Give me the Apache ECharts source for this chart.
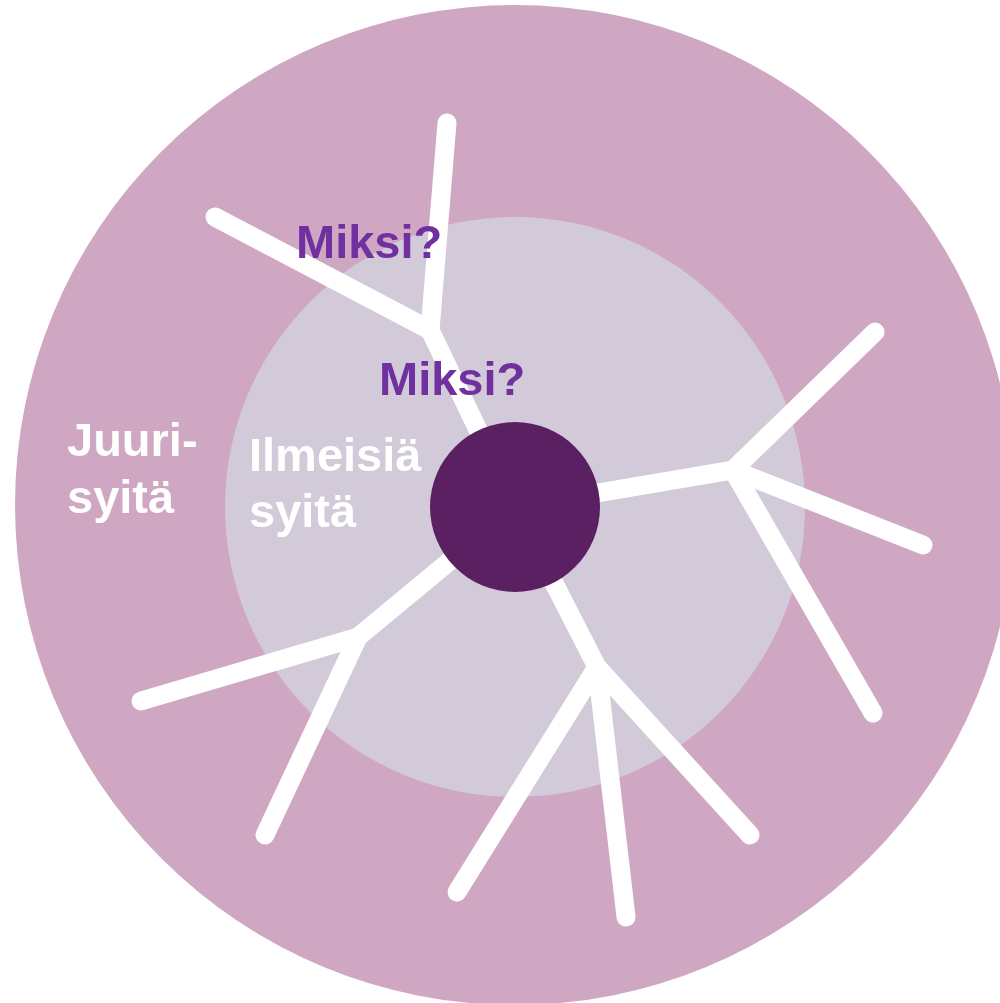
<!DOCTYPE html>
<html>
<head>
<meta charset="utf-8">
<script src="https://cdn.jsdelivr.net/npm/echarts@6/dist/echarts.min.js"></script>
<style>
html,body{margin:0;padding:0;background:#ffffff;}
#main{width:1000px;height:1003px;}
</style>
</head>
<body>
<div id="main"></div>
<script>
// Rings: [cx, cy, radius]
const rings = [
  [515, 505, 500],   // outer: root causes
  [515, 507, 290],   // inner: obvious causes
];
const core = [[515, 507, 85]];

// Branch segments: [x1, y1, x2, y2]
const stems = [
  [515, 507, 430, 330],
  [515, 507, 733, 470],
  [515, 507, 358, 637],
  [515, 507, 597, 667]
];
const twigs = [
  [430, 330, 447, 123],
  [430, 330, 215, 217],
  [733, 470, 875, 332],
  [733, 470, 923, 545],
  [733, 470, 873, 713],
  [358, 637, 141, 701],
  [358, 637, 265, 835],
  [597, 667, 457, 892],
  [597, 667, 626, 917],
  [597, 667, 750, 835]
];

// Labels: [x, y(baseline), text]
const whyLabels = [
  [296, 261, 'Miksi?'],
  [379, 398, 'Miksi?']
];
const zoneLabels = [
  [67, 459, 'Juuri-'],
  [67, 516, 'syitä'],
  [249, 474, 'Ilmeisiä'],
  [249, 530, 'syitä']
];

const ringColors = ['#CFA7C3', '#D2CAD8'];
const coreColor = '#5A2062';

const chart = echarts.init(document.getElementById('main'), null, {renderer: 'canvas'});

function circleSeries(data, colors, z) {
  return {
    type: 'custom',
    coordinateSystem: 'cartesian2d',
    clip: false,
    z: z,
    silent: true,
    data: data,
    renderItem: function (params, api) {
      const c = api.coord([api.value(0), api.value(1)]);
      const r = api.size([api.value(2), 0])[0];
      return {
        type: 'circle',
        shape: {cx: c[0], cy: c[1], r: r},
        style: {fill: colors[params.dataIndex % colors.length]}
      };
    }
  };
}

function segSeries(data, z) {
  return {
    type: 'custom',
    coordinateSystem: 'cartesian2d',
    clip: false,
    z: z,
    silent: true,
    data: data,
    renderItem: function (params, api) {
      const a = api.coord([api.value(0), api.value(1)]);
      const b = api.coord([api.value(2), api.value(3)]);
      return {
        type: 'line',
        shape: {x1: a[0], y1: a[1], x2: b[0], y2: b[1]},
        style: {stroke: '#ffffff', lineWidth: 19, lineCap: 'round'}
      };
    }
  };
}

function textSeries(data, color, z) {
  return {
    type: 'custom',
    coordinateSystem: 'cartesian2d',
    clip: false,
    z: z,
    silent: true,
    data: data,
    renderItem: function (params, api) {
      const p = api.coord([api.value(0), api.value(1)]);
      return {
        type: 'text',
        x: p[0], y: p[1] - 16,
        style: {
          text: data[params.dataIndex][2],
          fill: color,
          font: 'bold 47px "Liberation Sans", Arial, sans-serif',
          align: 'left',
          verticalAlign: 'middle'
        }
      };
    }
  };
}

chart.setOption({
  animation: false,
  backgroundColor: '#ffffff',
  grid: {left: 0, right: 0, top: 0, bottom: 0},
  xAxis: {type: 'value', min: 0, max: 1000, show: false},
  yAxis: {type: 'value', min: 0, max: 1003, inverse: true, show: false},
  series: [
    circleSeries(rings, ringColors, 1),
    segSeries(stems, 2),
    segSeries(twigs, 2),
    circleSeries(core, [coreColor], 3),
    textSeries(zoneLabels, '#ffffff', 4),
    textSeries(whyLabels, '#7030A0', 4)
  ]
});
</script>
</body>
</html>
